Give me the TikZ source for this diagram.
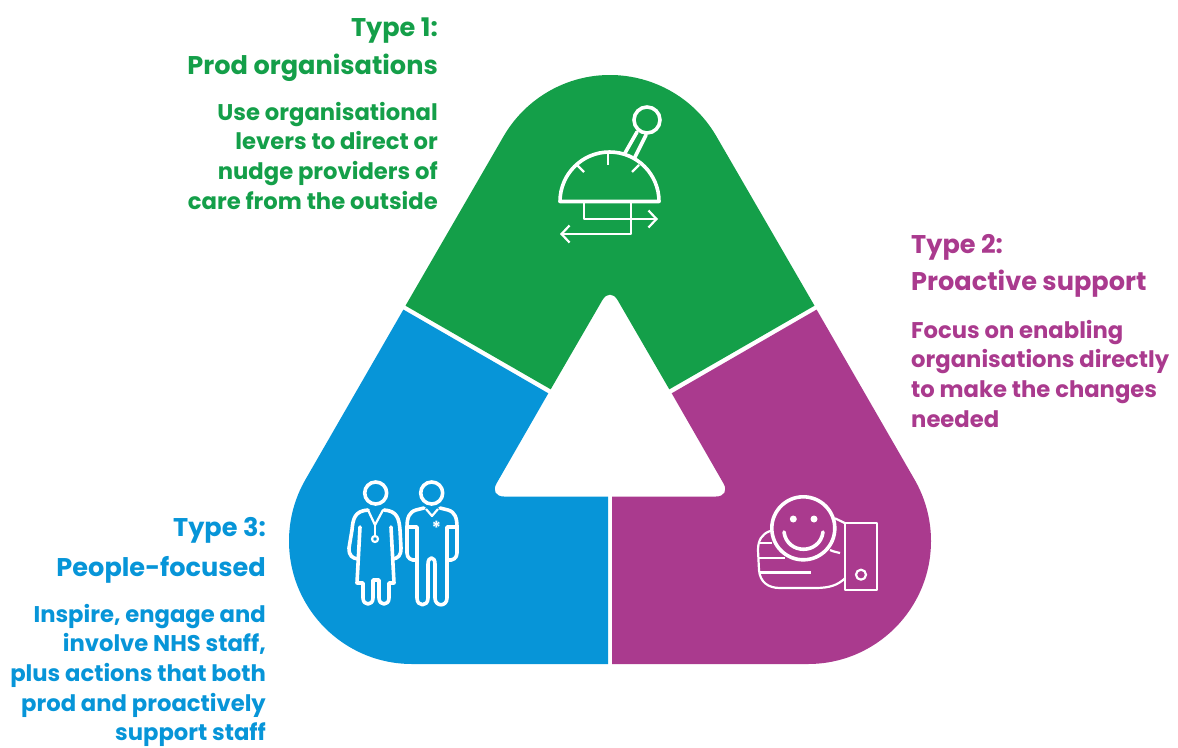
\documentclass[tikz,border=0pt]{standalone}
\usepackage{fontspec}
\setmainfont{Poppins}
\usepackage{tikz}
\usetikzlibrary{arrows.meta}
\definecolor{prodgreen}{HTML}{149F49}
\definecolor{peopleblue}{HTML}{0795D8}
\definecolor{supportpurple}{HTML}{AA3A8E}
\tikzset{
  titletext/.style={font=\bfseries\fontsize{25.6}{37}\selectfont, inner sep=0pt},
  bodytext/.style={font=\bfseries\fontsize{22.7}{29.6}\selectfont, inner sep=0pt},
  iconline/.style={draw=white, line width=3.6pt, line join=round, line cap=round},
  thinline/.style={draw=white, line width=2.2pt, line join=round},
  barb/.style={-{Straight Barb[length=8pt,width=17pt,line width=2.2pt]}}
}
\begin{document}
\begin{tikzpicture}[x=1pt,y=-1pt]
            \useasboundingbox (0,0) rectangle (1178,747);
            % Segmentos
            \fill[prodgreen] (405.5,305.7) -- (550.7,389.3) [rounded corners=15pt] -- (610,287) [sharp corners] -- (669.3,389.3) -- (814.5,305.7) -- (716.5,136.5) arc[start angle=30, end angle=150, radius=123pt] -- cycle;
            \fill[peopleblue] (403.4,309.6) -- (548.3,393.3) [rounded corners=15pt] -- (489,496.5) [sharp corners] -- (608,496.5) -- (608,664) -- (412,664) arc[start angle=270, end angle=150, radius=123pt] -- cycle;
            \fill[supportpurple] (816.6,309.6) -- (671.7,393.3) [rounded corners=15pt] -- (731,496.5) [sharp corners] -- (612,496.5) -- (612,664) -- (808,664) arc[start angle=-90, end angle=30, radius=123pt] -- cycle;

            % Palanca
            \draw[iconline] (560,201.5) arc[start angle=180, end angle=0, radius=49.5pt] -- cycle;
            \draw[thinline] (608,153) -- (608,165);
            \draw[thinline] (577,165) -- (584,172);
            \draw[thinline] (639,165) -- (632,172);
            \draw[iconline] (647,120) circle (13pt);
            \draw[iconline] (637,132) -- (625,153);
            \draw[iconline] (646,135) -- (635,157);
            \draw[thinline, barb] (584,203) -- (584,219) -- (658,219);
            \draw[thinline, barb] (631,203) -- (631,234) -- (560,234);

            % Personal
            \draw[iconline] (375.7,493) circle (11pt);
            \draw[iconline] (431.7,493) circle (11pt);
            \draw[iconline] (368,510) .. controls (355,511) and (353,518) .. (352,530) -- (349,548) .. controls (349,556) and (352,558) .. (358,559);
            \draw[iconline] (384,510) .. controls (397,511) and (399,518) .. (400,530) -- (401,548) .. controls (401,556) and (398,558) .. (393,559);
            \draw[iconline] (360,527) -- (357,583) -- (363,583) -- (363,598) .. controls (363,606) and (373,606) .. (373,598) -- (373,580) -- (379,580) -- (379,598) .. controls (379,606) and (389,606) .. (389,598) -- (389,583) -- (394,583) -- (391,527);
            \draw[thinline] (368,510) -- (375,525) -- (383,510);
            \draw[thinline] (375,525) -- (375,535);
            \draw[thinline] (375,539) circle (3pt);
            \draw[iconline] (424,508) -- (416,510) .. controls (409,512) and (407,518) .. (407,527) -- (407,553) .. controls (407,558) and (411,561) .. (417,560);
            \draw[iconline] (440,508) -- (448,510) .. controls (455,512) and (457,518) .. (457,527) -- (457,553) .. controls (457,558) and (453,561) .. (447,560);
            \draw[iconline] (407,527) -- (417,527) -- (417,598) .. controls (417,607) and (428,607) .. (428,598) -- (428,564) .. controls (428,556) and (435,556) .. (435,564) -- (435,598) .. controls (435,607) and (447,607) .. (447,598) -- (447,527) -- (457,527);
            \draw[thinline] (426,509) -- (432,516) -- (438,509);
            \node[text=white, inner sep=0pt, font=\bfseries\fontsize{18}{18}\selectfont] (star) at (436.5,528) {*};

            % Mano
            \draw[iconline] (803.3,528.3) circle (31.5pt);
            \fill[white] (793.3,519) circle (3.5pt);
            \fill[white] (814,519) circle (3.5pt);
            \draw[iconline] (784,532) .. controls (787,555) and (820,555) .. (823,532);
            \draw[thinline] (845.3,523.3) rectangle (877.3,590);
            \draw[thinline] (861,574.7) circle (5pt);
            \draw[thinline] (835,518.3) -- (845.3,523.3);
            \draw[thinline] (770,531) .. controls (762,534) and (758,540) .. (758,550) -- (759,570) .. controls (760,582) and (768,588) .. (780,588) -- (815,588) .. controls (830,588) and (838,585) .. (845.3,578);
            \draw[thinline] (758,543) -- (772,543);
            \draw[thinline] (758,558) -- (785,558);
            \draw[thinline] (760,572.5) -- (811,572.5);
            \draw[thinline] (830,550) .. controls (834,552) and (837,552) .. (840,553);

            % Textos
            \node[titletext, text=prodgreen, anchor=base east] (type1) at (438,36) {Type 1:};
            \node[titletext, text=prodgreen, anchor=base east] (prod) at (438,74) {Prod organisations};
            \node[bodytext, text=prodgreen, anchor=north east, align=right] (prodtext) at (438,102) {Use organisational\\levers to direct or\\nudge providers of\\care from the outside};
            \node[titletext, text=supportpurple, anchor=base west] (type2) at (911,253) {Type 2:};
            \node[titletext, text=supportpurple, anchor=base west] (support) at (911,290) {Proactive support};
            \node[bodytext, text=supportpurple, anchor=north west, align=left] (supporttext) at (911,320) {Focus on enabling\\organisations directly\\to make the changes\\needed};
            \node[titletext, text=peopleblue, anchor=base east] (type3) at (266,536) {Type 3:};
            \node[titletext, text=peopleblue, anchor=base east] (people) at (266,576) {People-focused};
            \node[bodytext, text=peopleblue, anchor=north east, align=right] (peopletext) at (266,604) {Inspire, engage and\\involve NHS staff,\\plus actions that both\\prod and proactively\\support staff};
          \end{tikzpicture}
\end{document}
